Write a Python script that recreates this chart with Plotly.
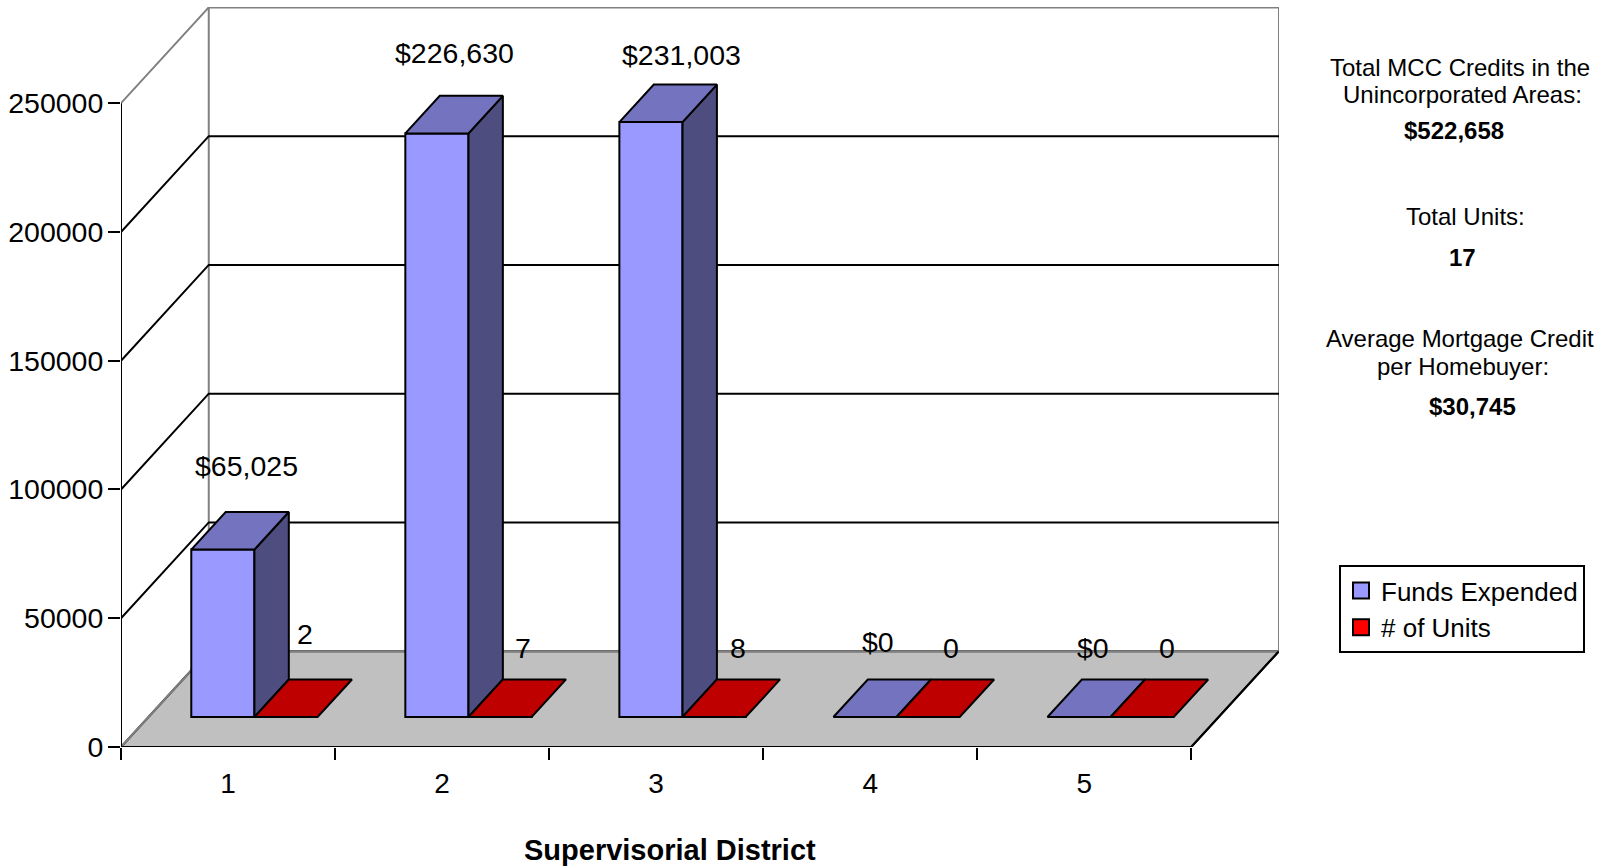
import plotly.graph_objects as go

DISTRICTS = ["1", "2", "3", "4", "5"]
FUNDS = [65025, 226630, 231003, 0, 0]
UNITS = [2, 7, 8, 0, 0]
FUNDS_TEXT = ["$65,025", "$226,630", "$231,003", "$0", "$0"]
UNITS_TEXT = ["2", "7", "8", "0", "0"]
Y_TICKS = [0, 50000, 100000, 150000, 200000, 250000]

# oblique projection of the depth direction, in axis units
DEPTH_X = 0.41
DEPTH_Y = 37200
FRONT, BACK = 0.313, 0.705
BAR_W = 0.295
N = len(DISTRICTS)
Y_TOP = 287350

W, H = 1606, 868
L, R, T, B = 121, 1279, 7, 747
BLACK, GREY = "#000000", "#808080"
BLUE = ("#9999FF", "#7373BF", "#4D4D80")
RED = ("#FF0000", "#BF0000", "#800000")


def poly(x, y, fill):
    return go.Scatter(x=x, y=y, mode="lines", fill="toself", fillcolor=fill,
                      line=dict(color=BLACK, width=2), hoverinfo="skip",
                      showlegend=False)


def path(points):
    return "M " + " L ".join(f"{x} {y}" for x, y in points)


fig = go.Figure()

# bars: front faces are real bars, side and top faces are the projected polygons
for name, vals, start, cols in (("Funds Expended", FUNDS, 0.2, BLUE),
                                ("# of Units", UNITS, 0.495, RED)):
    fig.add_trace(go.Bar(
        name=name,
        x=[i + start + BAR_W / 2 + FRONT * DEPTH_X for i in range(N)],
        y=vals,
        base=[FRONT * DEPTH_Y] * N,
        width=BAR_W,
        marker=dict(color=cols[0], line=dict(color=BLACK, width=2)),
        hoverinfo="skip",
        showlegend=False,
    ))
    for i, v in enumerate(vals):
        x0 = i + start + FRONT * DEPTH_X
        x1 = x0 + BAR_W
        xb = (BACK - FRONT) * DEPTH_X
        y0 = FRONT * DEPTH_Y
        yb = (BACK - FRONT) * DEPTH_Y
        if v > 100:
            fig.add_trace(poly([x1, x1 + xb, x1 + xb, x1, x1],
                               [y0, y0 + yb, y0 + yb + v, y0 + v, y0], cols[2]))
        fig.add_trace(poly([x0, x1, x1 + xb, x0 + xb, x0],
                           [y0 + v, y0 + v, y0 + v + yb, y0 + v + yb, y0 + v], cols[1]))

# legend keys
for name, cols in (("Funds Expended", BLUE), ("# of Units", RED)):
    fig.add_trace(go.Scatter(
        name=name, x=[None], y=[None], mode="markers", hoverinfo="skip",
        marker=dict(symbol="square", size=16, color=cols[0],
                    line=dict(color=BLACK, width=2)),
    ))

# walls, floor and gridlines sit under the traces
shapes = []
shapes.append(dict(type="path", layer="below", fillcolor="#C0C0C0",
                   line=dict(color=BLACK, width=2),
                   path=path([(0, 0), (N, 0), (N + DEPTH_X, DEPTH_Y), (DEPTH_X, DEPTH_Y)]) + " Z"))
for pts in ([(0, 0), (DEPTH_X, DEPTH_Y)],
            [(DEPTH_X, DEPTH_Y), (N + DEPTH_X, DEPTH_Y)],
            [(0, 250000), (DEPTH_X, 250000 + DEPTH_Y), (N + DEPTH_X, 250000 + DEPTH_Y), (N + DEPTH_X, DEPTH_Y)],
            [(DEPTH_X, DEPTH_Y), (DEPTH_X, 250000 + DEPTH_Y)]):
    shapes.append(dict(type="path", layer="below", path=path(pts),
                       line=dict(color=GREY, width=2)))
for v in Y_TICKS[1:-1]:
    shapes.append(dict(type="path", layer="below",
                       path=path([(0, v), (DEPTH_X, v + DEPTH_Y), (N + DEPTH_X, v + DEPTH_Y)]),
                       line=dict(color=BLACK, width=2)))
shapes.append(dict(type="line", layer="below", x0=0, x1=0, y0=0, y1=250000,
                   line=dict(color=BLACK, width=2)))
shapes.append(dict(type="line", layer="below", x0=0, x1=N, y0=0, y1=0,
                   line=dict(color=BLACK, width=2)))
shapes.append(dict(type="line", layer="below", x0=N, x1=N + DEPTH_X, y0=0, y1=DEPTH_Y,
                   line=dict(color=BLACK, width=2)))

# data labels
FUNDS_XSHIFT = [-11, -17, -4, -21, -20]
FUNDS_YSHIFT = [46, 43, 30, 37, 31]
UNITS_XSHIFT = [-15, -11, -10, -12, -10]
UNITS_YSHIFT = [45, 31, 31, 31, 31]
annotations = []
for vals, texts, start, xs, ys in ((FUNDS, FUNDS_TEXT, 0.2, FUNDS_XSHIFT, FUNDS_YSHIFT),
                                   (UNITS, UNITS_TEXT, 0.495, UNITS_XSHIFT, UNITS_YSHIFT)):
    for i, (v, t) in enumerate(zip(vals, texts)):
        annotations.append(dict(
            x=i + start + BAR_W / 2 + BACK * DEPTH_X, y=v + BACK * DEPTH_Y,
            xref="x", yref="y", text=t, showarrow=False,
            xanchor="center", yanchor="middle", xshift=xs[i], yshift=ys[i],
            font=dict(size=28.5, color=BLACK)))

# side notes, positioned in page pixels
NOTES = [
    ("Total MCC Credits in the", 1460, 67, False),
    ("Unincorporated Areas:", 1462, 94, False),
    ("$522,658", 1454, 130, True),
    ("Total Units:", 1465, 216, False),
    ("17", 1462, 257, True),
    ("Average Mortgage Credit", 1460, 338, False),
    ("per Homebuyer:", 1463, 366, False),
    ("$30,745", 1472, 406, True),
]
for text, px, py, bold in NOTES:
    annotations.append(dict(
        xref="paper", yref="paper", x=1, y=1, xshift=px - R, yshift=T - py,
        text=f"<b>{text}</b>" if bold else text, showarrow=False,
        xanchor="center", yanchor="middle",
        font=dict(size=24, color=BLACK)))
annotations.append(dict(
    xref="paper", yref="paper", x=1, y=1, xshift=670 - R, yshift=T - 850,
    text="<b>Supervisorial District</b>", showarrow=False,
    xanchor="center", yanchor="middle", font=dict(size=29, color=BLACK)))

fig.update_layout(
    width=W, height=H,
    margin=dict(l=L, r=W - R, t=T, b=H - B, pad=0),
    paper_bgcolor="white", plot_bgcolor="white",
    font=dict(family="Liberation Sans, Arial, sans-serif", color=BLACK),
    barmode="overlay",
    shapes=shapes,
    annotations=annotations,
    legend=dict(
        x=(1339 - L) / (R - L), y=(B - 565) / (B - T), xanchor="left", yanchor="top",
        bordercolor=BLACK, borderwidth=2, bgcolor="white",
        font=dict(size=26, color=BLACK), itemwidth=30, traceorder="normal",
    ),
    xaxis=dict(
        range=[0, N + DEPTH_X], showgrid=False, zeroline=False, showline=False,
        tickmode="array", tickvals=[i + 0.5 for i in range(N)], ticktext=DISTRICTS,
        ticks="", ticklabelstandoff=17, tickfont=dict(size=28, color=BLACK),
        minor=dict(tickmode="array", tickvals=list(range(N + 1)), ticks="outside",
                   ticklen=12, tickwidth=2, tickcolor=BLACK, showgrid=False),
    ),
    yaxis=dict(
        range=[0, Y_TOP], showgrid=False, zeroline=False, showline=False,
        tickmode="array", tickvals=Y_TICKS, ticktext=[str(v) for v in Y_TICKS],
        ticks="outside", ticklen=12, tickwidth=2, tickcolor=BLACK,
        ticklabelstandoff=-1, tickfont=dict(size=28.5, color=BLACK),
    ),
)

fig.write_html("out.html", config=dict(displayModeBar=False),
               post_script="document.body.style.margin='0';document.body.style.overflow='hidden';")
